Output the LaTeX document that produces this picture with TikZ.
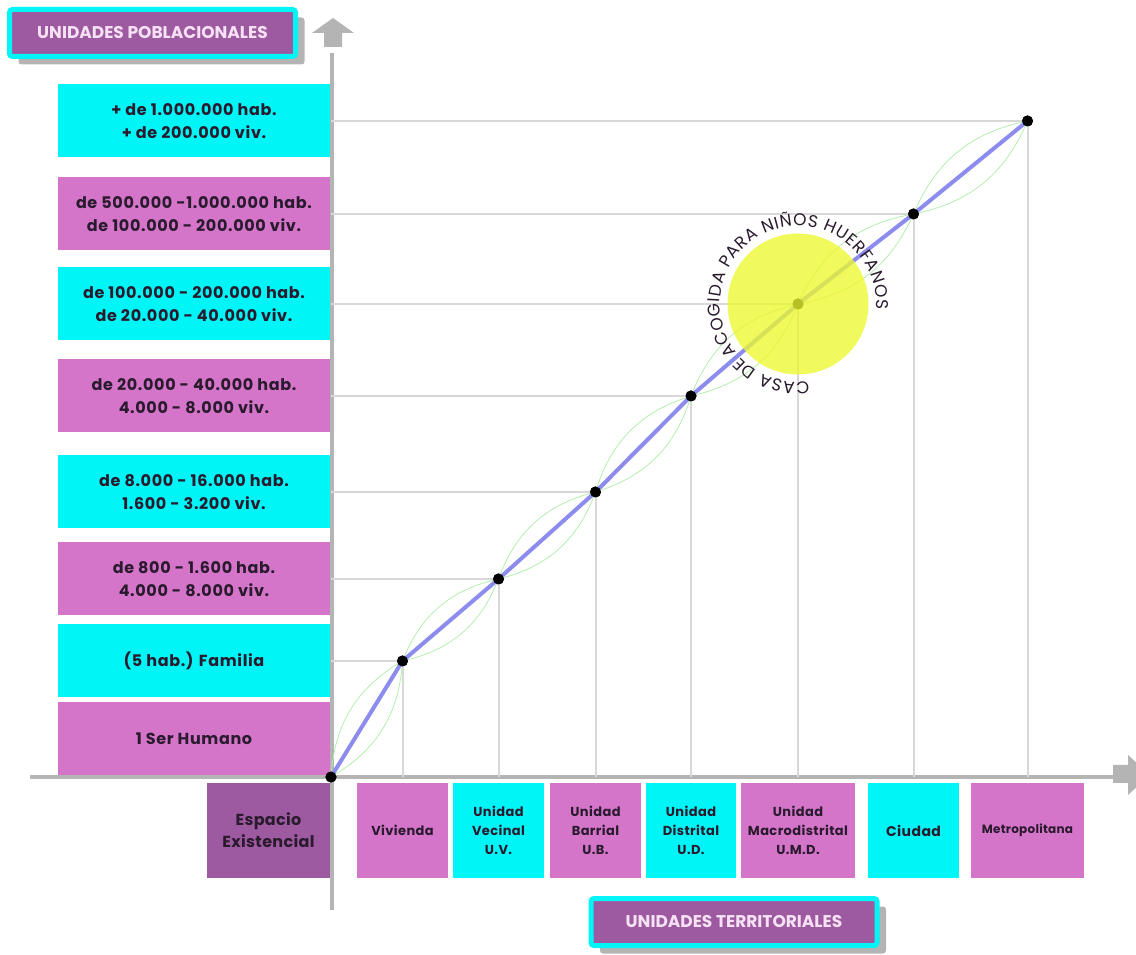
\documentclass[tikz,border=0pt]{standalone}
\usepackage{fontspec}
\setmainfont{Poppins}
\usetikzlibrary{positioning,shadows,decorations.text,calc}
\definecolor{PobCyan}{HTML}{00F6F6}
\definecolor{PobMagenta}{HTML}{D475CA}
\definecolor{PobPurple}{HTML}{9E5AA0}
\definecolor{PobInk}{HTML}{2A1A2E}
\definecolor{PobAxis}{HTML}{B4B4B4}
\definecolor{PobGrid}{HTML}{D8D8D8}
\definecolor{PobBlue}{HTML}{8C8CEE}
\definecolor{PobGreen}{HTML}{B4EEAE}
\definecolor{PobYellow}{HTML}{ECF82E}
\definecolor{PobPale}{HTML}{F6E2F4}

\begin{document}
\begin{tikzpicture}[
  x=1pt, y=1pt,
  rango/.style={minimum width=272pt, minimum height=73pt, inner sep=0pt,
                align=center, text=PobInk,
                font=\fontsize{16}{23}\selectfont\bfseries\addfontfeature{LetterSpace=4}},
  unidad/.style={minimum height=95pt, inner sep=0pt, align=center,
                 text=PobInk,
                 font=\fontsize{13}{19}\selectfont\bfseries\addfontfeature{LetterSpace=3}},
  titulo/.style={fill=PobPurple, draw=PobCyan, line width=5pt,
                 rounded corners=3pt, minimum width=286pt,
                 minimum height=47pt, text=PobPale,
                 font=\fontsize{17}{18}\selectfont\bfseries,
                 drop shadow={shadow xshift=9pt, shadow yshift=-8pt,
                              fill=PobAxis, opacity=1}},
  punto/.style={circle, fill=black, inner sep=0pt, minimum size=11pt},
  rejilla/.style={PobGrid, line width=2pt},
  lente/.style={PobGreen, line width=0.8pt},
  eje/.style={PobAxis, line width=3.5pt}
]
\clip (0,0) rectangle (1136,954);

% axes
\coordinate (ytop) at (332,901);
\coordinate (ybot) at (332,44);
\coordinate (xini) at (30,177);
\coordinate (xfin) at (1113,177);
\draw[eje] (ytop) -- (ybot);
\draw[eje, line width=4pt] (xini) -- (xfin);
\fill[PobAxis] (333,936) -- (354,921) -- (342,921) -- (342,907)
  -- (324,907) -- (324,921) -- (312,921) -- cycle;
\fill[PobAxis] (1113,171) -- (1128,171) -- (1128,159) -- (1150,179)
  -- (1128,199) -- (1128,189) -- (1113,189) -- cycle;

% population units
\node[rango, fill=PobCyan] (r1) at (194,833)
  {+ de 1.000.000 hab.\\+ de 200.000 viv.};
\node[rango, fill=PobMagenta] (r2) at (194,740)
  {de 500.000 -1.000.000 hab.\\ de 100.000 - 200.000 viv.};
\node[rango, fill=PobCyan] (r3) at (194,650)
  {de 100.000 - 200.000 hab.\\ de 20.000 - 40.000 viv.};
\node[rango, fill=PobMagenta] (r4) at (194,558)
  {de 20.000 - 40.000 hab.\\4.000 - 8.000 viv.};
\node[rango, fill=PobCyan] (r5) at (194,462)
  {de 8.000 - 16.000 hab.\\1.600 - 3.200 viv.};
\node[rango, fill=PobMagenta] (r6) at (194,375)
  {de 800 - 1.600 hab.\\4.000 - 8.000 viv.};
\node[rango, fill=PobCyan] (r7) at (194,293) {(5 hab.) Familia};
\node[rango, fill=PobMagenta] (r8) at (194,215) {1 Ser Humano};

% territorial units
\node[unidad, fill=PobPurple, minimum width=123pt,
      font=\fontsize{16}{22}\selectfont\bfseries\addfontfeature{LetterSpace=2}] (esp) at (268.5,123.5)
  {Espacio\\Existencial};
\node[unidad, fill=PobMagenta, minimum width=91pt] (viv) at (402.5,123.5)
  {Vivienda};
\node[unidad, fill=PobCyan, minimum width=91pt] (uv) at (498.5,123.5)
  {Unidad\\Vecinal\\U.V.};
\node[unidad, fill=PobMagenta, minimum width=91pt] (ub) at (595.5,123.5)
  {Unidad\\Barrial\\U.B.};
\node[unidad, fill=PobCyan, minimum width=90pt] (ud) at (691,123.5)
  {Unidad\\Distrital\\U.D.};
\node[unidad, fill=PobMagenta, minimum width=114pt] (umd) at (798,123.5)
  {Unidad\\Macrodistrital\\U.M.D.};
\node[unidad, fill=PobCyan, minimum width=91pt,
      font=\fontsize{14}{19}\selectfont\bfseries\addfontfeature{LetterSpace=3}] (ciu) at (913.5,123.5)
  {Ciudad};
\node[unidad, fill=PobMagenta, minimum width=113pt,
      font=\fontsize{12}{19}\selectfont\bfseries\addfontfeature{LetterSpace=2}] (met) at (1027.5,123.5)
  {Metropolitana};

% titles
\node[titulo] (tpob) at (152.5,921) {UNIDADES POBLACIONALES};
\node[titulo] (tter) at (734,32) {UNIDADES TERRITORIALES};

% points of the curve
\node[punto] (o) at (331,177) {};
\node[punto] (p1) at (viv |- r7) {};
\node[punto] (p2) at (uv |- r6) {};
\node[punto] (p3) at (ub |- r5) {};
\node[punto] (p4) at (ud |- r4) {};
\node[punto] (p5) at (umd |- r3) {};
\node[punto] (p6) at (ciu |- r2) {};
\node[punto] (p7) at (met |- r1) {};

% grid
\foreach \p in {p1,p2,p3,p4,p5,p6,p7} {
  \draw[rejilla] (\p.center -| o) -- (\p.center);
  \draw[rejilla] (\p.center) -- (\p.center |- o);
}
\foreach \a/\b in {o/p1,p1/p2,p2/p3,p3/p4,p4/p5,p5/p6,p6/p7} {
  \draw[lente] (\a.center) to[bend left=28] (\b.center);
  \draw[lente] (\a.center) to[bend right=28] (\b.center);
}
\draw[PobBlue, line width=4pt, line join=round] (o.center) -- (p1.center)
  -- (p2.center) -- (p3.center) -- (p4.center) -- (p5.center)
  -- (p6.center) -- (p7.center);
\foreach \p in {o,p1,p2,p3,p4,p5,p6,p7}
  \fill (\p) circle (5.5);

% orphanage
\node[circle, fill=PobYellow, fill opacity=0.78, minimum size=141pt,
      inner sep=0pt] (casa) at (p5) {};
\path[decorate, decoration={text along path,
      text={|\fontsize{17}{17}\selectfont\color{PobInk}|CASA DE ACOGIDA PARA NIÑOS HUERFANOS},
      text align={fit to path}}]
  ($(casa.center)+(-82:78)$) arc[start angle=-82, end angle=-364, radius=78];
\end{tikzpicture}
\end{document}
